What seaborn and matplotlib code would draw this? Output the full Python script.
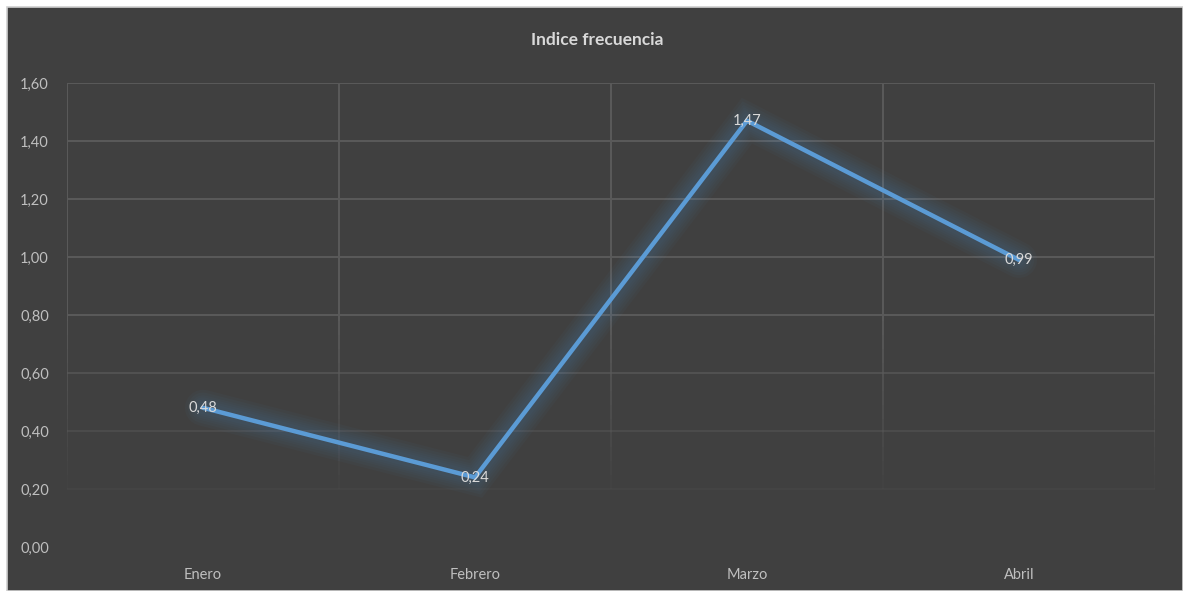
import matplotlib
matplotlib.use('Agg')
import matplotlib.pyplot as plt
import matplotlib.patheffects as pe
from matplotlib.patches import Rectangle
from matplotlib.ticker import FuncFormatter
import seaborn as sns
import pandas as pd
import numpy as np

# Data
meses = ['Enero', 'Febrero', 'Marzo', 'Abril']
indice = [0.48, 0.24, 1.47, 0.99]
y_ticks = [0.0, 0.2, 0.4, 0.6, 0.8, 1.0, 1.2, 1.4, 1.6]

df = pd.DataFrame({'mes': meses, 'indice': indice})

sns.set_theme(style='dark')
plt.rcParams['font.family'] = ['Lato', 'DejaVu Sans']

BG = '#404040'
GRID = '#5a5a5a'
TXT = '#bfbfbf'
BLUE = '#5B9BD5'

fig = plt.figure(figsize=(11.83, 5.91), dpi=100)
fig.patch.set_facecolor('white')
# dark chart area with thin light border
fig.patches.append(Rectangle((7 / 1183, 0), 1 - 7 / 1183, 1 - 7 / 591,
                             transform=fig.transFigure, facecolor=BG,
                             edgecolor='#d0d0d0', linewidth=1.2, zorder=-10))

ax = fig.add_axes([67 / 1183, 1 - 547 / 591, (1155 - 67) / 1183, (547 - 83) / 591])
ax.set_facecolor(BG)
ax.patch.set_alpha(0)

# fading horizontal gridlines (stronger at top, vanishing near the base)
for v in y_ticks:
    if v >= 0.8:
        a = 1.0
    else:
        a = max(0.0, (v - 0.05) / 0.8)
    if a > 0:
        ax.axhline(v, color=GRID, lw=1.4, alpha=a, zorder=1)

# fading vertical gridlines at category boundaries
edges = np.arange(-0.5, 4.0, 1.0)
seg = np.linspace(0.2, 1.6, 30)
for xe in edges:
    for y0, y1 in zip(seg[:-1], seg[1:]):
        mid = (y0 + y1) / 2
        a = 1.0 if mid >= 0.8 else max(0.0, (mid - 0.15) / 0.65)
        ax.plot([xe, xe], [y0, y1], color=GRID, lw=1.4, alpha=a,
                solid_capstyle='butt', zorder=1)

sns.lineplot(data=df, x='mes', y='indice', ax=ax, color=BLUE, linewidth=3.2,
             sort=False, zorder=3)
line = ax.lines[-1]
line.set_solid_joinstyle('miter')
# soft glow around the line
glow = [pe.Stroke(linewidth=w, foreground=BLUE, alpha=0.035)
        for w in (26, 22, 18, 15, 12, 9)]
line.set_path_effects(glow + [pe.Normal()])

for i, v in enumerate(indice):
    ax.text(i, v, f'{v:.2f}'.replace('.', ','), ha='center', va='center',
            color='#d9d9d9', fontsize=10.5, zorder=4)

ax.set_xlim(-0.5, 3.5)
ax.set_ylim(0, 1.6)
ax.set_yticks(y_ticks)
ax.yaxis.set_major_formatter(FuncFormatter(lambda v, p: f'{v:.2f}'.replace('.', ',')))
ax.tick_params(axis='y', colors=TXT, labelsize=10.5, length=0, pad=13)
ax.tick_params(axis='x', colors=TXT, labelsize=10.5, length=0, pad=15)
ax.set_xlabel('')
ax.set_ylabel('')
ax.grid(False)
for s in ax.spines.values():
    s.set_visible(False)

fig.text(597 / 1183, 1 - 40 / 591, 'Indice frecuencia', ha='center', va='center',
         color='#d9d9d9', fontsize=12.5, fontweight='bold')

fig.savefig('out.png', dpi=100, facecolor=fig.get_facecolor())
